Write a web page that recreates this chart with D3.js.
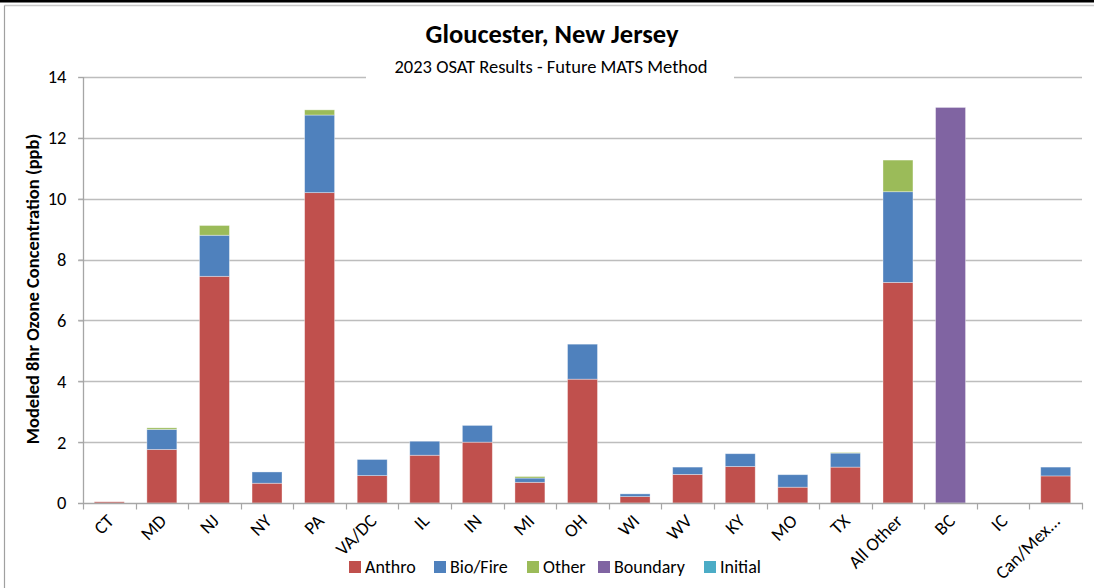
<!DOCTYPE html>
<html><head><meta charset="utf-8">
<script src="https://cdn.jsdelivr.net/npm/d3@7/dist/d3.min.js"></script>
<style>
body{margin:0;background:#fff;}
svg{display:block;font-family:Carlito,Lato,"Open Sans",sans-serif;}
</style></head><body>
<svg id="c" width="1094" height="588"></svg>
<script>
const categories = ["CT","MD","NJ","NY","PA","VA/DC","IL","IN","MI","OH","WI","WV","KY","MO","TX","All Other","BC","IC","Can/Mex..."];
const seriesNames = ["Anthro","Bio/Fire","Other","Boundary","Initial"];
const anthro   = [0.04,1.76,7.45,0.65,10.2,0.9,1.57,2.0,0.68,4.07,0.21,0.94,1.2,0.52,1.18,7.25,0,0,0.89];
const bioFire  = [0,0.66,1.35,0.37,2.55,0.53,0.46,0.55,0.14,1.15,0.09,0.24,0.42,0.41,0.46,2.98,0,0,0.29];
const other    = [0,0.05,0.32,0,0.17,0,0,0,0.05,0,0,0,0,0,0.02,1.04,0,0,0];
const boundary = [0,0,0,0,0,0,0,0,0,0,0,0,0,0,0,0,13.0,0,0];
const initial  = [0,0,0,0,0,0,0,0,0,0,0,0,0,0,0,0,0,0,0];
const yTicks = [0,2,4,6,8,10,12,14];
const colors = ["#C0504D","#4F81BD","#9BBB59","#8064A2","#4BACC6"];

const svg = d3.select("#c");
// frame
svg.append("rect").attr("x",0).attr("y",0).attr("width",1094).attr("height",2.5).attr("fill","#000");
svg.append("line").attr("x1",4.5).attr("x2",1094).attr("y1",5.5).attr("y2",5.5).attr("stroke","#c8c8c8").attr("stroke-width",1.5);
svg.append("line").attr("x1",4.5).attr("x2",4.5).attr("y1",5.5).attr("y2",588).attr("stroke","#a0a0a0").attr("stroke-width",1.2);

const m = {l:83,r:1082,t:77,b:503};
const x = d3.scaleBand().domain(categories).range([m.l,m.r]).paddingInner(0.43).paddingOuter(0.215);
const xb = d3.scaleBand().domain(categories).range([m.l,m.r]);
const y = d3.scaleLinear().domain([0,14]).range([m.b,m.t]);

// grid
const g = svg.append("g");
g.selectAll("line.grid").data(yTicks.filter(d=>d>0)).join("line")
 .attr("x1",m.l-5).attr("x2",m.r).attr("y1",d=>Math.round(y(d))+0.5).attr("y2",d=>Math.round(y(d))+0.5)
 .attr("stroke","#bdbdbd").attr("stroke-width",1.3);

// stacked bars
const table = categories.map((c,i)=>({cat:c,"Anthro":anthro[i],"Bio/Fire":bioFire[i],"Other":other[i],"Boundary":boundary[i],"Initial":initial[i]}));
const stack = d3.stack().keys(seriesNames)(table);
svg.append("g").selectAll("g").data(stack).join("g").attr("fill",(d,i)=>colors[i])
 .selectAll("rect").data(d=>d.filter(p=>p[1]-p[0]>0)).join("rect")
 .attr("x",d=>x(d.data.cat)).attr("width",x.bandwidth())
 .attr("y",d=>y(d[1])).attr("height",d=>y(d[0])-y(d[1]))
 .attr("stroke","rgba(255,255,255,0.45)").attr("stroke-width",0.8);

// y axis
const yAxis = svg.append("g").attr("transform",`translate(${m.l+0.5},0)`)
 .call(d3.axisLeft(y).tickValues(yTicks).tickSize(5).tickPadding(12).tickFormat(d3.format("d")));
yAxis.select(".domain").attr("stroke","#a6a6a6").attr("stroke-width",1.3).attr("d",`M0,${m.t}V${m.b}`);
yAxis.selectAll(".tick line").attr("stroke","#a6a6a6");
yAxis.selectAll("text").attr("font-size",18.5).attr("fill","#000").attr("font-family","Carlito,Lato,sans-serif");

// x axis
const xg = svg.append("g").attr("transform",`translate(0,${m.b+0.5})`);
xg.append("line").attr("x1",m.l-5).attr("x2",m.r+1).attr("y1",0).attr("y2",0).attr("stroke","#a6a6a6").attr("stroke-width",1.3);
xg.selectAll("line.t").data(categories.concat(["_end"])).join("line")
 .attr("x1",(d,i)=>Math.round(m.l+i*xb.bandwidth())+0.5).attr("x2",(d,i)=>Math.round(m.l+i*xb.bandwidth())+0.5)
 .attr("y1",0).attr("y2",6).attr("stroke","#a6a6a6").attr("stroke-width",1.2);
xg.selectAll("text").data(categories).join("text")
 .attr("transform",d=>`translate(${xb(d)+xb.bandwidth()/2+1},14) rotate(-45)`)
 .attr("text-anchor","end").attr("dy","0.35em").attr("font-size",18.5).text(d=>d);

// subtitle background and texts
svg.append("rect").attr("x",366).attr("y",55).attr("width",368).attr("height",26).attr("fill","#fff");
svg.append("text").attr("x",552).attr("y",43).attr("text-anchor","middle").attr("font-size",26.5).attr("font-weight","bold").text("Gloucester, New Jersey");
svg.append("text").attr("x",551).attr("y",73).attr("text-anchor","middle").attr("font-size",18.5).text("2023 OSAT Results - Future MATS Method");
svg.append("text").attr("transform","translate(39,289) rotate(-90)").attr("text-anchor","middle").attr("font-size",18.5).attr("font-weight","bold").text("Modeled 8hr Ozone Concentration (ppb)");

// legend
const legX = [349,434,527,598,704];
const lg = svg.append("g").selectAll("g").data(seriesNames).join("g").attr("transform",(d,i)=>`translate(${legX[i]},561)`);
lg.append("rect").attr("width",12).attr("height",12).attr("fill",(d,i)=>colors[i]);
lg.append("text").attr("x",16).attr("y",12).attr("font-size",18).text(d=>d);
</script></body></html>
